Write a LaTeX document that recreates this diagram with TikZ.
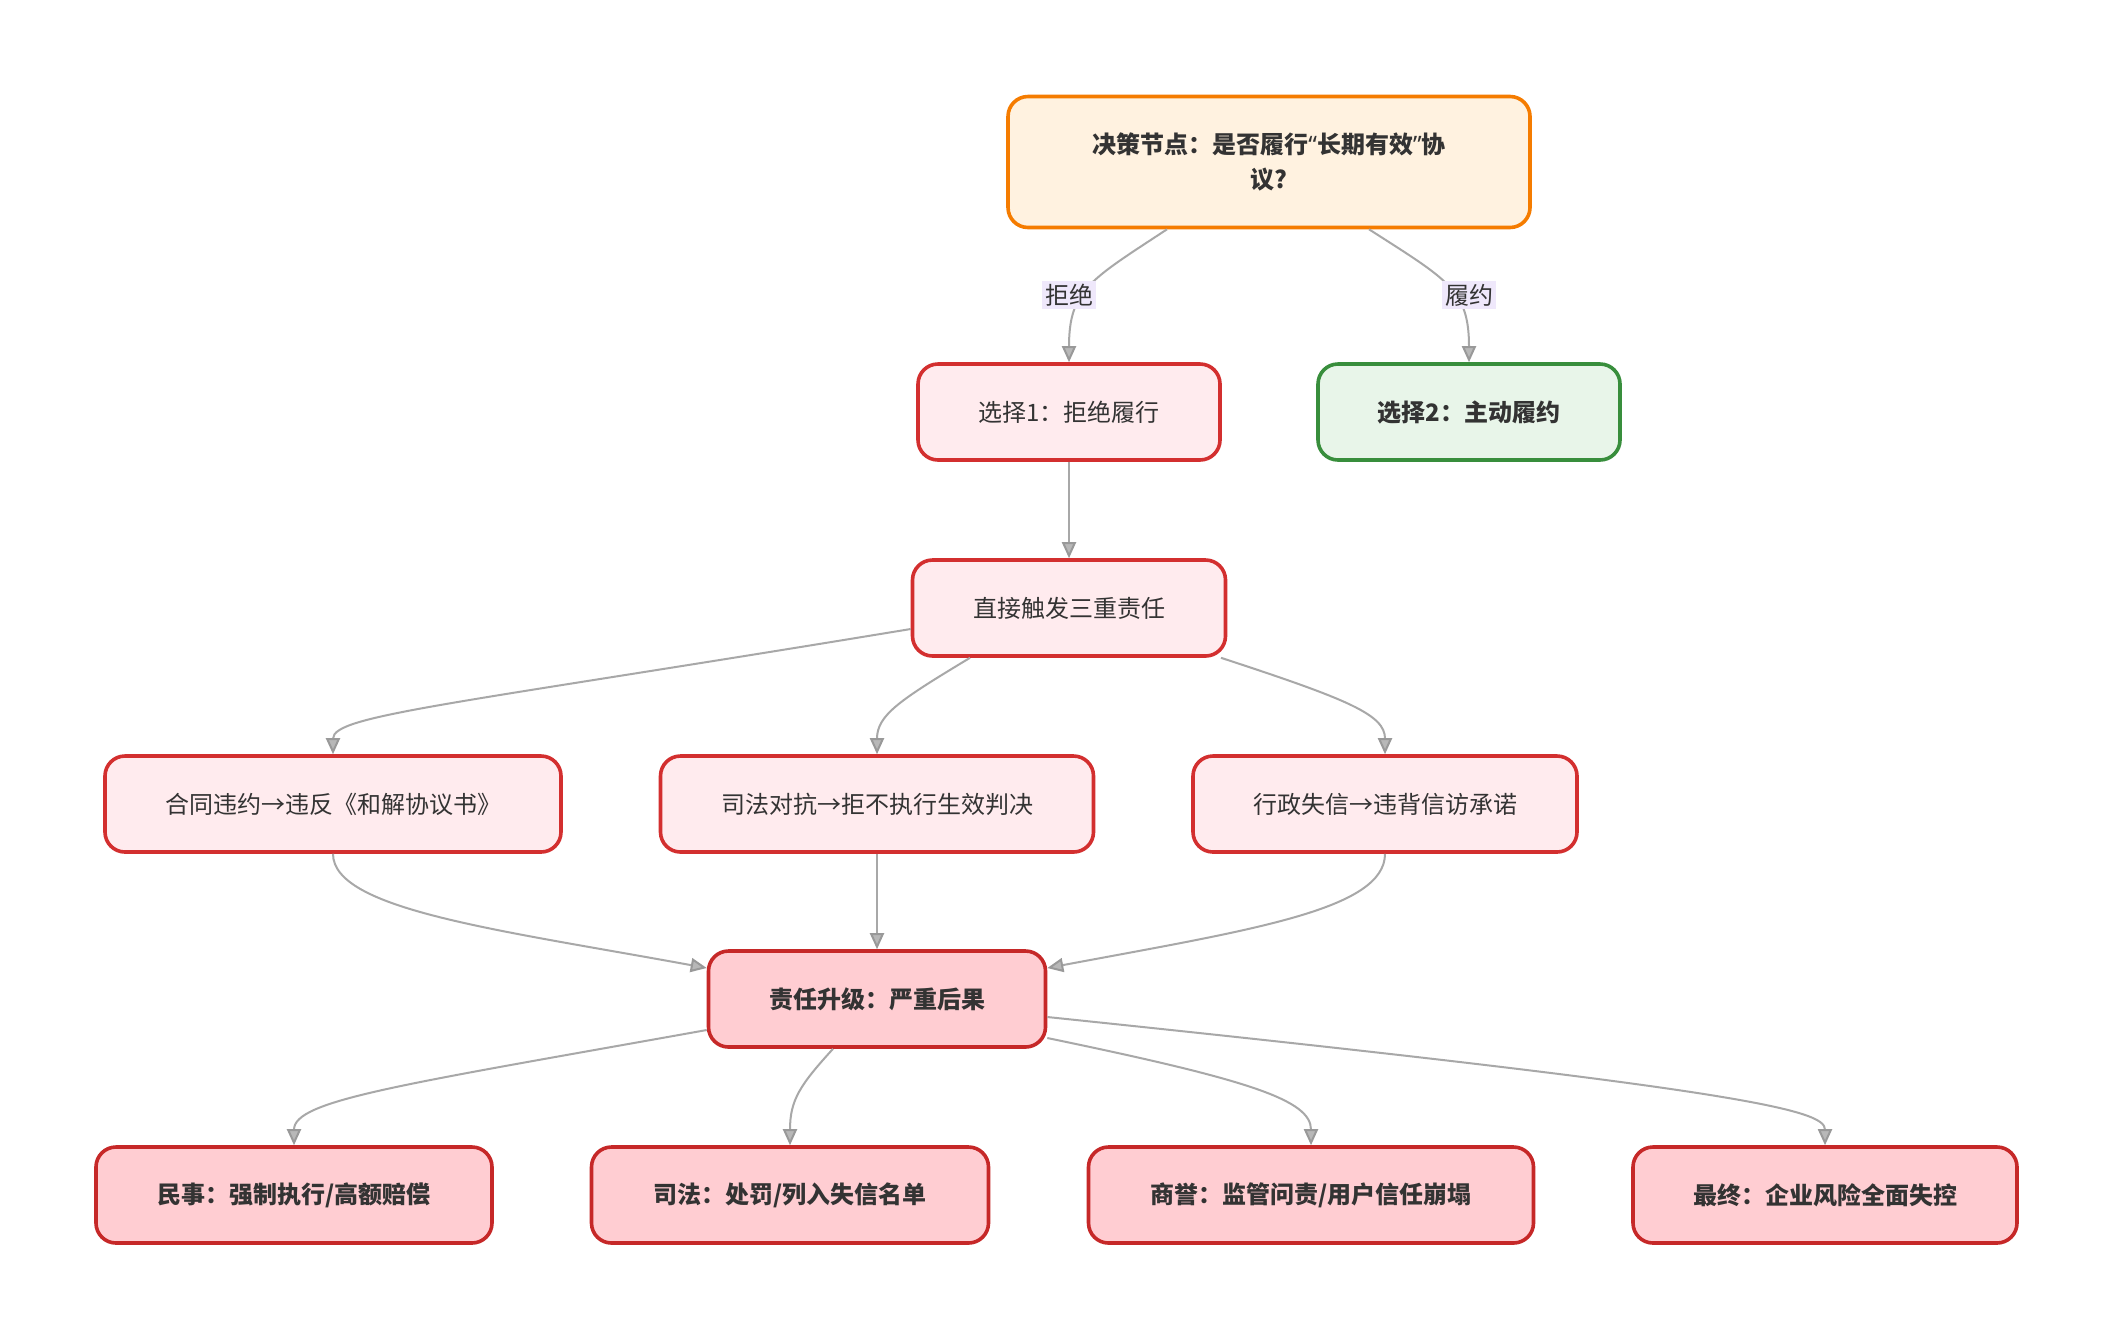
\documentclass[tikz,border=0pt]{standalone}
\usepackage{fontspec}
\setmainfont{Noto Sans CJK SC}
\newfontfamily\latinq{Noto Sans}
\usetikzlibrary{arrows.meta}
\definecolor{txt}{HTML}{333333}
\definecolor{edgec}{HTML}{A8A8A8}
\definecolor{tipc}{HTML}{999999}
\definecolor{orfill}{HTML}{FFF2E0}
\definecolor{ordraw}{HTML}{F57C00}
\definecolor{rdfill}{HTML}{FFEBEE}
\definecolor{rddraw}{HTML}{D32F2F}
\definecolor{grfill}{HTML}{E8F5E9}
\definecolor{grdraw}{HTML}{388E3C}
\definecolor{rkfill}{HTML}{FFCDD2}
\definecolor{rkdraw}{HTML}{C62828}
\definecolor{lblbg}{HTML}{EFE8FB}
\tikzset{
  box/.style={rectangle, rounded corners=10pt, line width=1.8pt, text=txt,
    font=\fontsize{12}{17.5}\selectfont, align=center, inner sep=0pt},
  topbox/.style={box, draw=ordraw, fill=orfill, minimum width=261pt, minimum height=65.5pt, font=\fontsize{12}{17.5}\selectfont\bfseries},
  redbox/.style={box, draw=rddraw, fill=rdfill, minimum height=48pt},
  greenbox/.style={box, draw=grdraw, fill=grfill, minimum height=48pt, font=\fontsize{12}{17.5}\selectfont\bfseries},
  darkbox/.style={box, draw=rkdraw, fill=rkfill, minimum height=48pt, font=\fontsize{12}{17.5}\selectfont\bfseries},
  conn/.style={draw=edgec, line width=1pt, -{Triangle[width=7pt,length=8pt,fill=tipc!70,color=tipc]}},
  lbl/.style={fill=lblbg, text=txt, font=\fontsize{12}{14}\selectfont, inner sep=1.5pt},
}
\begin{document}
\begin{tikzpicture}[x=0.5pt,y=-0.5pt]
\useasboundingbox[fill=white] (0,0) rectangle (2113,1340);
% nodes
\node[topbox] (top) at (1269,162) {决策节点：是否履行{\latinq\bfseries “}长期有效{\latinq\bfseries ”}协\\议?};
\node[redbox, minimum width=151pt] (s1) at (1069,412) {选择1：拒绝履行};
\node[greenbox, minimum width=151pt] (s2) at (1469,412) {选择2：主动履约};
\node[redbox, minimum width=156.5pt] (d) at (1069,608) {直接触发三重责任};
\node[redbox, minimum width=228pt] (c1) at (333,804) {合同违约→违反《和解协议书》};
\node[redbox, minimum width=216.5pt] (c2) at (877,804) {司法对抗→拒不执行生效判决};
\node[redbox, minimum width=192pt] (c3) at (1385,804) {行政失信→违背信访承诺};
\node[darkbox, minimum width=168.5pt] (e) at (877,999) {责任升级：严重后果};
\node[darkbox, minimum width=198pt] (b1) at (294,1195) {民事：强制执行/高额赔偿};
\node[darkbox, minimum width=198.5pt] (b2) at (790,1195) {司法：处罚/列入失信名单};
\node[darkbox, minimum width=222.5pt] (b3) at (1311,1195) {商誉：监管问责/用户信任崩塌};
\node[darkbox, minimum width=192pt] (b4) at (1825,1195) {最终：企业风险全面失控};
% connectors
\draw[conn] ([xshift=-51pt]top.south) .. controls (1090,280) and (1069,290) .. (s1.north);
\draw[conn] ([xshift=50pt]top.south) .. controls (1448,280) and (1469,290) .. (s2.north);
\node[lbl] (l1) at (1069,295) {拒绝};
\node[lbl] (l2) at (1469,295) {履约};
\draw[conn] (s1.south) -- (d.north);
\draw[conn] ([yshift=-10.5pt]d.west) .. controls (450,705) and (333,715) .. (c1.north);
\draw[conn] ([xshift=-49.5pt]d.south) .. controls (900,700) and (877,715) .. (c2.north);
\draw[conn] ([xshift=76pt]d.south) .. controls (1350,700) and (1385,715) .. (c3.north);
\draw[conn] (c1.south) .. controls (333,910) and (500,930) .. ([yshift=15.5pt]e.west);
\draw[conn] (c2.south) -- (e.north);
\draw[conn] (c3.south) .. controls (1385,910) and (1250,930) .. ([yshift=15.5pt]e.east);
\draw[conn] ([yshift=-15.5pt]e.west) .. controls (400,1085) and (294,1100) .. (b1.north);
\draw[conn] ([xshift=-22pt]e.south) .. controls (800,1085) and (790,1100) .. (b2.north);
\draw[conn] ([yshift=-19.5pt]e.east) .. controls (1250,1080) and (1311,1100) .. (b3.north);
\draw[conn] ([yshift=-9pt]e.east) .. controls (1750,1090) and (1825,1110) .. (b4.north);
\end{tikzpicture}
\end{document}
